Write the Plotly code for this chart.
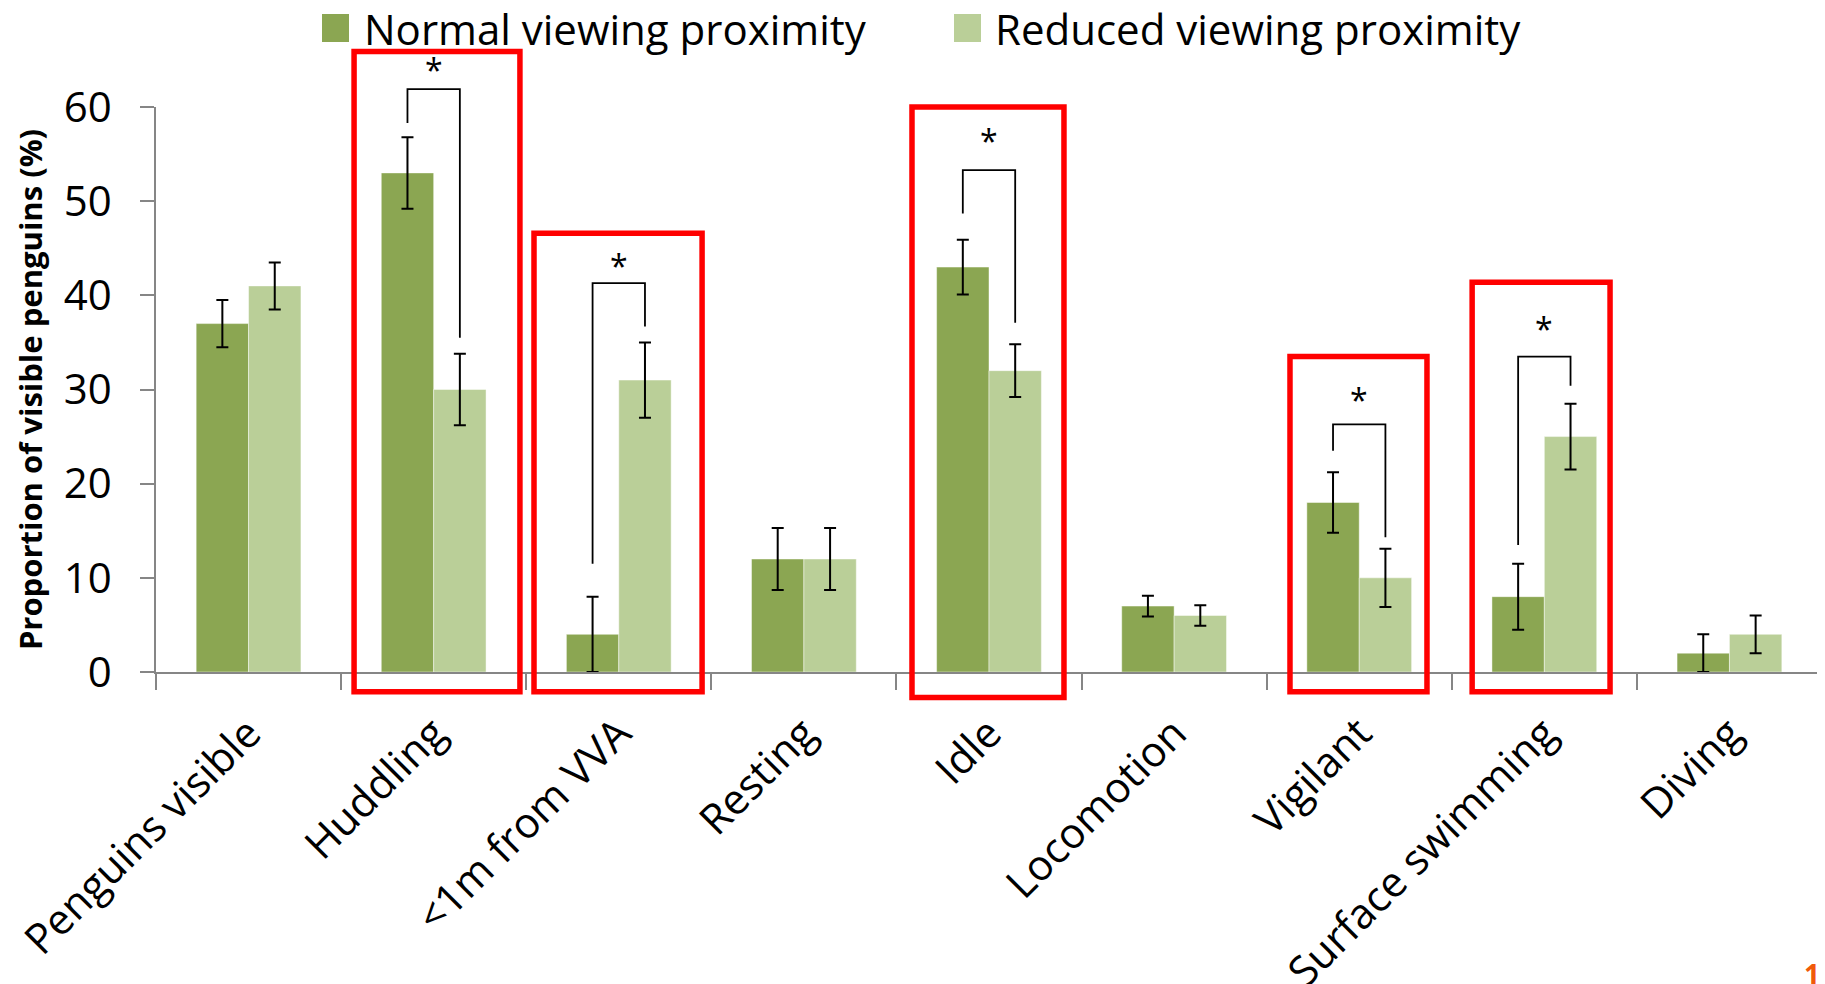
import plotly.graph_objects as go

# ---------------- data ----------------
categories = ["Penguins visible", "Huddling", "<1m from VVA", "Resting", "Idle",
              "Locomotion", "Vigilant", "Surface swimming", "Diving"]
series_names = ["Normal viewing proximity", "Reduced viewing proximity"]
normal = [37, 53, 4, 12, 43, 7, 18, 8, 2]
normal_err = [2.5, 3.8, 4.0, 3.3, 2.9, 1.1, 3.2, 3.5, 2.0]
reduced = [41, 30, 31, 12, 32, 6, 10, 25, 4]
reduced_err = [2.5, 3.8, 4.0, 3.3, 2.8, 1.1, 3.1, 3.5, 2.0]
y_ticks = [0, 10, 20, 30, 40, 50, 60]

# significance brackets (category index, values in % units)
sig_idx = [1, 2, 4, 6, 7]
sig_left_start = [58.3, 11.5, 48.7, 23.5, 13.5]
sig_top = [61.9, 41.3, 53.3, 26.3, 33.5]
sig_right_end = [35.5, 36.7, 37.1, 14.3, 30.4]
sig_star = [64.4, 43.5, 56.8, 29.3, 36.9]
# red highlight boxes (category-axis units / % units)
box_left = [0.570, 1.542, 3.584, 5.626, 6.610]
box_right = [1.466, 2.450, 4.405, 6.366, 7.355]
box_top = [65.9, 46.6, 60.0, 33.5, 41.4]
box_bottom = [-2.1, -2.1, -2.7, -2.1, -2.1]

# ---------------- styling ----------------
BODY = 8  # default page margin around the figure
W, H = 1817, 976
ML, MR, MT, MB = 148, 3, 99, 312
Y_MAX = 60
BARGAP = 0.434
C_NORMAL = "#8BA652"
C_REDUCED = "#BACF98"
AXIS_GRAY = "#868686"
FONT = "Open Sans"

plot_w = W - ML - MR
plot_h = H - MT - MB


def yp(v):
    return v / Y_MAX


def px_x(px):  # page pixel -> paper
    return (px - BODY - ML) / plot_w


def px_y(py):
    return (H - MB - (py - BODY)) / plot_h


half = (1 - BARGAP) / 4  # offset of each bar centre from category centre

fig = go.Figure()
fig.add_trace(go.Bar(
    x=categories, y=normal, name=series_names[0], marker_color=C_NORMAL,
    marker_line=dict(color="rgba(255,255,255,0.45)", width=1),
    error_y=dict(type="data", array=normal_err, color="black", thickness=2, width=6),
))
fig.add_trace(go.Bar(
    x=categories, y=reduced, name=series_names[1], marker_color=C_REDUCED,
    marker_line=dict(color="rgba(255,255,255,0.45)", width=1),
    error_y=dict(type="data", array=reduced_err, color="black", thickness=2, width=6),
))

shapes = []
annotations = []

# brackets and stars
for i, ls, top, re_, st in zip(sig_idx, sig_left_start, sig_top, sig_right_end, sig_star):
    xl = i - half
    xr = i + half
    shapes.append(dict(
        type="path", xref="x", yref="paper",
        path=f"M {xl},{yp(ls)} L {xl},{yp(top)} L {xr},{yp(top)} L {xr},{yp(re_)}",
        line=dict(color="black", width=1.8),
    ))
    annotations.append(dict(
        x=i, y=yp(st), xref="x", yref="paper", text="*", showarrow=False,
        font=dict(family=FONT, size=32, color="black"), yanchor="middle", yshift=-3,
        height=30,
    ))

# red boxes
for x0, x1, y1, y0 in zip(box_left, box_right, box_top, box_bottom):
    shapes.append(dict(
        type="rect", xref="x", yref="paper", x0=x0, x1=x1, y0=yp(y0), y1=yp(y1),
        line=dict(color="#FF0000", width=5.5), fillcolor="rgba(0,0,0,0)",
    ))

# manual legend (page pixel positions)
legend_items = [(series_names[0], C_NORMAL, 322, 362), (series_names[1], C_REDUCED, 954, 993)]
for name, col, sx, tx in legend_items:
    shapes.append(dict(
        type="rect", xref="paper", yref="paper",
        x0=px_x(sx), x1=px_x(sx + 27), y0=px_y(42), y1=px_y(14),
        line=dict(width=0), fillcolor=col,
    ))
    annotations.append(dict(
        x=px_x(tx), y=px_y(29), xref="paper", yref="paper", text=name,
        showarrow=False, xanchor="left", yanchor="middle",
        font=dict(family=FONT, size=42, color="black"),
    ))

# small orange page marker at bottom right
annotations.append(dict(
    x=px_x(1812), y=px_y(953), xref="paper", yref="paper", text="<b>1</b>",
    showarrow=False, xanchor="center", yanchor="top",
    font=dict(family=FONT, size=28, color="#F05A0A"),
))

fig.update_layout(
    width=W, height=H,
    margin=dict(l=ML, r=MR, t=MT, b=MB, autoexpand=False),
    paper_bgcolor="white", plot_bgcolor="white",
    barmode="group", bargap=BARGAP, bargroupgap=0,
    showlegend=False,
    font=dict(family=FONT, color="black"),
    shapes=shapes, annotations=annotations,
)
fig.update_xaxes(
    range=[-0.5, len(categories) - 0.5],
    showline=True, linecolor=AXIS_GRAY, linewidth=1.5,
    ticks="outside", tickson="boundaries", ticklen=16, tickcolor=AXIS_GRAY, tickwidth=1.5,
    tickangle=-45, tickfont=dict(family=FONT, size=42, color="black"),
    ticklabelstandoff=18,
    showgrid=False, zeroline=False,
)
fig.update_yaxes(
    range=[0, Y_MAX], tickvals=y_ticks,
    showline=True, linecolor=AXIS_GRAY, linewidth=1.5,
    ticks="outside", ticklen=14, tickcolor=AXIS_GRAY, tickwidth=1.5,
    tickfont=dict(family=FONT, size=42, color="black"), ticklabelstandoff=20,
    showgrid=False, zeroline=False,
    title=dict(text="<b>Proportion of visible penguins (%)</b>",
               font=dict(family=FONT, size=31, color="black"), standoff=12),
)

fig.write_html("out.html")
